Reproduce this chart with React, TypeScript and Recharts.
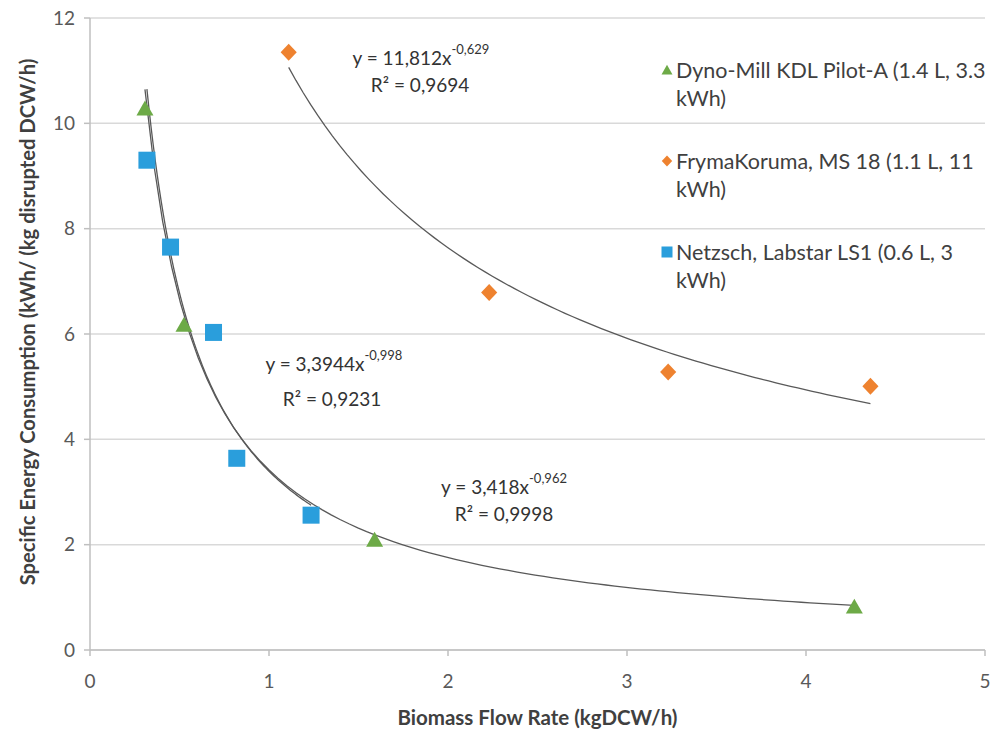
import React from 'react';
import { ScatterChart, Scatter, XAxis, YAxis, CartesianGrid, Legend, ReferenceDot } from 'recharts';

const FONT = 'Lato, "Open Sans", sans-serif';

// measured points
const dynoX = [0.307, 0.525, 1.59, 4.27];
const dynoY = [10.28, 6.17, 2.09, 0.82];
const frymaX = [1.11, 2.23, 3.23, 4.36];
const frymaY = [11.35, 6.79, 5.28, 5.01];
const netzX = [0.318, 0.45, 0.69, 0.82, 1.235];
const netzY = [9.3, 7.65, 6.03, 3.64, 2.56];

// power trendline coefficients (a, b) as printed on the chart: y = a * x^b
const dynoFit = [3.418, -0.962];
const frymaFit = [11.812, -0.629];
const netzFit = [3.3944, -0.998];

const seriesNames = [
  'Dyno-Mill KDL Pilot-A (1.4 L, 3.3 kWh)',
  'FrymaKoruma, MS 18 (1.1 L, 11 kWh)',
  'Netzsch, Labstar LS1 (0.6 L, 3 kWh)',
];
const seriesColors = ['#6DAA47', '#EE822F', '#2A9EDC'];
const seriesShapes = ['triangle', 'diamond', 'square'];

const xTicks = [0, 1, 2, 3, 4, 5];
const yTicks = [0, 2, 4, 6, 8, 10, 12];

// equation labels and R² labels, anchored in data space
const eqLabels = [
  { x: 1.849, y: 11.26, eq: 'y = 11,812x', exp: '-0,629', rx: 1.844, ry: 10.73, r2: '0,9694' },
  { x: 1.363, y: 5.45, eq: 'y = 3,3944x', exp: '-0,998', rx: 1.352, ry: 4.78, r2: '0,9231' },
  { x: 2.313, y: 3.11, eq: 'y = 3,418x', exp: '-0,962', rx: 2.313, ry: 2.6, r2: '0,9998' },
];

const toPoints = (xs: number[], ys: number[]) => xs.map((x, i) => ({ x, y: ys[i] }));

const trend = (xs: number[], fit: number[]) => {
  const lo = Math.min(...xs);
  const hi = Math.max(...xs);
  const n = 80;
  return Array.from({ length: n + 1 }, (_, i) => {
    const x = lo + ((hi - lo) * i) / n;
    return { x, y: fit[0] * Math.pow(x, fit[1]) };
  });
};

const Marker = ({ kind, cx, cy, fill, s }: any) => {
  if (kind === 'triangle') {
    return <polygon points={`${cx},${cy - s * 0.95} ${cx + s},${cy + s * 0.8} ${cx - s},${cy + s * 0.8}`} fill={fill} />;
  }
  if (kind === 'diamond') {
    return <polygon points={`${cx},${cy - s} ${cx + s * 0.95},${cy} ${cx},${cy + s} ${cx - s * 0.95},${cy}`} fill={fill} />;
  }
  return <rect x={cx - s} y={cy - s} width={s * 2} height={s * 2} fill={fill} />;
};

const shapeFor = (i: number) => (props: any) => (
  <Marker kind={seriesShapes[i]} cx={props.cx} cy={props.cy} fill={seriesColors[i]} s={8.5} />
);

const noShape = () => <g />;

const renderLegend = (props: any) => {
  const items = (props.payload || []).filter((p: any) => seriesNames.includes(String(p.value)));
  return (
    <div style={{ fontFamily: FONT, fontSize: 21.5, color: '#404040', lineHeight: '28px', textAlign: 'left' }}>
      {items.map((item: any) => {
        const name = String(item.value);
        const i = seriesNames.indexOf(name);
        const cut = name.lastIndexOf(' ');
        return (
          <div key={name} style={{ position: 'relative', height: 91, paddingLeft: 15 }}>
            <svg style={{ position: 'absolute', left: 0, top: 8 }} width={12} height={12}>
              <Marker kind={seriesShapes[i]} cx={6} cy={6} fill={seriesColors[i]} s={5.5} />
            </svg>
            <div style={{ whiteSpace: 'nowrap' }}>{name.slice(0, cut)}</div>
            <div style={{ whiteSpace: 'nowrap' }}>{name.slice(cut + 1)}</div>
          </div>
        );
      })}
    </div>
  );
};

const YLabel = (props: any) => {
  const vb = props.viewBox || {};
  const x = 27;
  const y = vb.y + vb.height / 2 - 12;
  return (
    <text x={x} y={y} transform={`rotate(-90, ${x}, ${y})`} textAnchor="middle" dominantBaseline="central"
      fontFamily={FONT} fontSize={20.2} fontWeight={700} fill="#404040">
      Specific Energy Consumption (kWh/ (kg disrupted DCW/h)
    </text>
  );
};

const EqText = (label: any) => (props: any) => (
  <text x={props.cx} y={props.cy} textAnchor="middle" dominantBaseline="central" fontFamily={FONT} fontSize={19} fill="#333">
    <tspan>{label.eq}</tspan>
    <tspan dy={-8} fontSize={13}>{label.exp}</tspan>
  </text>
);

const R2Text = (label: any) => (props: any) => (
  <text x={props.cx} y={props.cy} textAnchor="middle" dominantBaseline="central" fontFamily={FONT} fontSize={19} fill="#333">
    R² = {label.r2}
  </text>
);

export default function App() {
  const dyno = toPoints(dynoX, dynoY);
  const fryma = toPoints(frymaX, frymaY);
  const netz = toPoints(netzX, netzY);
  const tickStyle = { fontFamily: FONT, fontSize: 19, fill: '#595959' };
  return (
    <div style={{ position: 'fixed', left: 0, top: 0, background: '#fff' }}>
      <ScatterChart width={990} height={731} margin={{ top: 18, right: 5, left: 8, bottom: 0 }}>
        <CartesianGrid vertical={false} stroke="#D9D9D9" strokeWidth={1.5} />
        <XAxis type="number" dataKey="x" domain={[0, 5]} ticks={xTicks} height={81} stroke="#BFBFBF" strokeWidth={1.5}
          tickSize={6} tickMargin={19} tick={tickStyle} allowDataOverflow
          label={{ value: 'Biomass Flow Rate (kgDCW/h)', position: 'insideBottom', offset: 6, fontFamily: FONT, fontSize: 20.5, fontWeight: 700, fill: '#404040' }} />
        <YAxis type="number" dataKey="y" domain={[0, 12]} ticks={yTicks} width={82} stroke="#BFBFBF" strokeWidth={1.5}
          tickSize={6} tickMargin={9} tick={tickStyle} allowDataOverflow label={<YLabel />} />
        <Legend layout="vertical" align="center" verticalAlign="middle" content={renderLegend}
          wrapperStyle={{ top: 56, left: 661, width: 329 }} />
        <Scatter name="dyno-trend" data={trend(dynoX, dynoFit)} line={{ stroke: '#595959', strokeWidth: 1.3 }} shape={noShape} legendType="none" isAnimationActive={false} />
        <Scatter name="fryma-trend" data={trend(frymaX, frymaFit)} line={{ stroke: '#595959', strokeWidth: 1.3 }} shape={noShape} legendType="none" isAnimationActive={false} />
        <Scatter name="netz-trend" data={trend(netzX, netzFit)} line={{ stroke: '#595959', strokeWidth: 1.3 }} shape={noShape} legendType="none" isAnimationActive={false} />
        <Scatter name={seriesNames[0]} data={dyno} fill={seriesColors[0]} shape={shapeFor(0)} isAnimationActive={false} />
        <Scatter name={seriesNames[1]} data={fryma} fill={seriesColors[1]} shape={shapeFor(1)} isAnimationActive={false} />
        <Scatter name={seriesNames[2]} data={netz} fill={seriesColors[2]} shape={shapeFor(2)} isAnimationActive={false} />
        {eqLabels.map((l) => (
          <ReferenceDot key={l.eq} x={l.x} y={l.y} r={0} shape={EqText(l)} />
        ))}
        {eqLabels.map((l) => (
          <ReferenceDot key={l.r2} x={l.rx} y={l.ry} r={0} shape={R2Text(l)} />
        ))}
      </ScatterChart>
    </div>
  );
}
